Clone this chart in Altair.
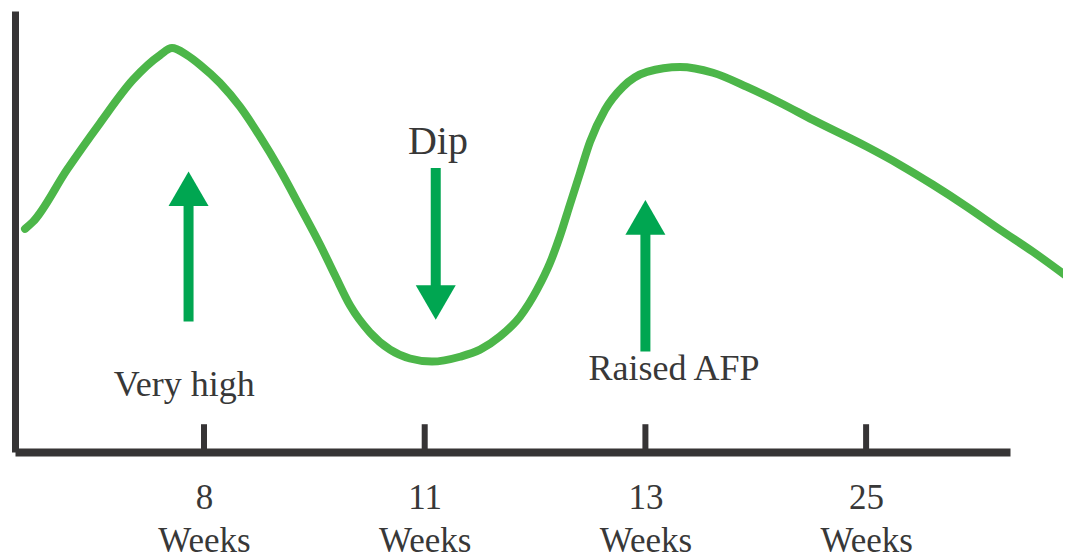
import altair as alt
import pandas as pd

# Week axis is not linear: positions 1..4 stand for 8, 11, 13 and 25 weeks
tick_pos = [1, 2, 3, 4]
tick_weeks = ["8", "11", "13", "25"]

# AFP-like curve (position on week axis, relative level 0-100)
curve_x = [0.189, 0.225, 0.379, 0.529, 0.678, 0.801, 0.855, 0.923, 0.982, 1.072,
           1.163, 1.254, 1.344, 1.435, 1.526, 1.594, 1.662, 1.752, 1.843, 1.933,
           2.033, 2.160, 2.251, 2.341, 2.432, 2.509, 2.568, 2.613, 2.658, 2.704,
           2.749, 2.817, 2.898, 3.007, 3.157, 3.306, 3.460, 3.610, 3.759, 4.004,
           4.154, 4.303, 4.457, 4.607, 4.756, 4.910]
curve_y = [50.6, 52.2, 64.0, 74.6, 84.4, 90.0, 91.6, 90.0, 87.8, 83.7,
           78.3, 71.5, 64.0, 55.6, 47.0, 40.0, 33.2, 27.1, 23.2, 21.2,
           20.5, 21.6, 23.2, 26.2, 30.7, 36.8, 42.9, 49.0, 56.1, 63.3,
           70.3, 77.6, 82.8, 86.2, 87.3, 86.0, 82.8, 79.2, 75.3, 69.2,
           65.1, 60.6, 55.6, 50.4, 45.4, 39.8]

# Arrows
arrow_x = [0.93, 2.05, 3.00]
arrow_tail = [29.6, 64.4, 22.8]
arrow_head = [59.7, 33.9, 53.2]
arrow_shape = ["triangle-up", "triangle-down", "triangle-up"]

# Annotations
note_text = ["Very high", "Dip", "Raised AFP"]
note_x = [0.91, 2.06, 3.13]
note_y = [12.6, 67.6, 16.4]

CURVE = "#4CB649"
ARROW = "#00A651"
AXIS = "#363435"
TEXT = "#383838"
FONT = "Liberation Serif"

curve_df = pd.DataFrame({"x": curve_x, "y": curve_y})
tick_df = pd.DataFrame({"x": tick_pos})
arrow_df = pd.DataFrame({"x": arrow_x, "tail": arrow_tail, "head": arrow_head, "shape": arrow_shape})
note_df = pd.DataFrame({"x": note_x, "y": note_y, "text": note_text})

xscale = alt.Scale(domain=[0.1436, 4.652], nice=False, zero=False)
yscale = alt.Scale(domain=[0, 100], nice=False, zero=False)

label_expr = "[[" + ",".join("'%s'" % w for w in tick_weeks) + "][datum.value - 1], 'Weeks']"

curve = alt.Chart(curve_df).mark_line(
    color=CURVE, strokeWidth=8, interpolate="monotone", strokeCap="round"
).encode(
    x=alt.X("x:Q", scale=xscale, title=None, axis=alt.Axis(
        values=tick_pos, labelExpr=label_expr, ticks=False, grid=False, title=None,
        domainWidth=8, domainColor=AXIS, labelFont=FONT, labelFontSize=35,
        labelColor=TEXT, labelLineHeight=43, labelPadding=28, labelBaseline="top",
        labelFlush=False, labelOverlap=False)),
    y=alt.Y("y:Q", scale=yscale, title=None, axis=alt.Axis(
        domain=True, domainWidth=7, domainColor=AXIS, ticks=False, labels=False,
        grid=False, title=None)),
)

ticks = alt.Chart(tick_df).mark_rule(color=AXIS, strokeWidth=6).encode(
    x=alt.X("x:Q", title=None),
    y=alt.datum(0),
    y2=alt.datum(6.3),
)

shafts = alt.Chart(arrow_df).mark_rule(color=ARROW, strokeWidth=10, strokeCap="butt").encode(
    x=alt.X("x:Q", title=None),
    y=alt.Y("tail:Q", title=None),
    y2=alt.Y2("head:Q", title=None),
)

heads = alt.Chart(arrow_df).mark_point(
    filled=True, size=1600, color=ARROW, opacity=1, strokeWidth=0
).encode(
    x=alt.X("x:Q", title=None),
    y=alt.Y("head:Q", title=None),
    shape=alt.Shape("shape:N", scale=None, legend=None),
)

notes = alt.Chart(note_df).mark_text(
    font=FONT, fontSize=36, color=TEXT, align="center", baseline="alphabetic"
).encode(
    x=alt.X("x:Q", title=None),
    y=alt.Y("y:Q", title=None),
    text="text:N",
).transform_filter("datum.text != 'Dip'")

dip = alt.Chart(note_df).mark_text(
    font=FONT, fontSize=40, color=TEXT, align="center", baseline="alphabetic"
).encode(
    x=alt.X("x:Q", title=None),
    y=alt.Y("y:Q", title=None),
    text="text:N",
).transform_filter("datum.text == 'Dip'")

chart = alt.layer(curve, ticks, shafts, heads, notes, dip).properties(
    width=995, height=441,
    autosize=alt.AutoSizeParams(type="none"),
    padding={"left": 7, "top": 3, "right": 53, "bottom": 106},
    background="white",
).configure_view(stroke=None)

chart.save("out.html", embed_options={"renderer": "svg", "actions": False})
